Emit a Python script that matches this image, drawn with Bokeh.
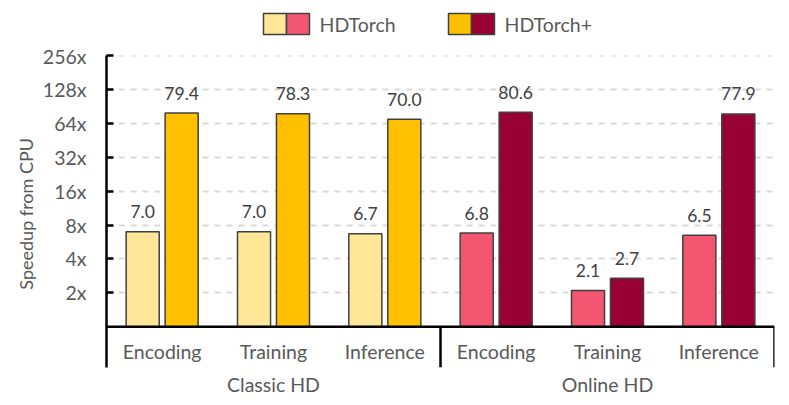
from bokeh.plotting import figure
from bokeh.layouts import column
from bokeh.models import (Range1d, FixedTicker, LogAxis, LinearAxis, Span,
                          ColumnDataSource, LogScale, Grid)
from bokeh.core.properties import value
from bokeh.embed import file_html
from bokeh.resources import INLINE

# ---------------- data ----------------
groups = ["Classic HD", "Online HD"]
categories = ["Encoding", "Training", "Inference"]
series = ["HDTorch", "HDTorch+"]
hdtorch = [7.0, 7.0, 6.7, 6.8, 2.1, 6.5]
hdtorch_plus = [79.4, 78.3, 70.0, 80.6, 2.7, 77.9]
y_ticks = [2, 4, 8, 16, 32, 64, 128, 256]
y_tick_labels = ["2x", "4x", "8x", "16x", "32x", "64x", "128x", "256x"]
# colours per group: (HDTorch, HDTorch+)
group_colors = {"Classic HD": ("#FFE699", "#FFC000"),
                "Online HD": ("#F25670", "#990033")}

FONT = "Lato"
TXT = "#595959"
DARK = "#404040"

W = 785
TOTAL_H = 401
LEG_H = 44
MAIN_H = TOTAL_H - LEG_H

ppd = 33.857          # pixels per doubling
base_px = 326.2       # page y of 1x
top_px, bot_px = 55, 367
left_px, right_px = 106, 774

# ---------------- legend strip ----------------
# (frames of a column are aligned, so the legend frame spans left_px..right_px)
leg = figure(width=W, height=LEG_H, x_range=Range1d(left_px, right_px),
             y_range=Range1d(LEG_H, 0),
             x_axis_type=None, y_axis_type=None,
             output_backend="svg", toolbar_location=None,
             min_border=0, min_border_left=left_px, min_border_right=W - right_px,
             min_border_top=0, min_border_bottom=0)
leg.grid.visible = False
leg.outline_line_color = None

sw_left = [263, 448]
sw_w = 46
sw_top, sw_bot = 13, 34
for k, name in enumerate(series):
    cols = [group_colors[g][k] for g in groups]
    x0 = sw_left[k]
    half = sw_w / 2
    leg.quad(left=[x0, x0 + half], right=[x0 + half, x0 + sw_w],
             top=[sw_top] * 2, bottom=[sw_bot] * 2,
             fill_color=cols, line_color=DARK, line_width=1.5)
    leg.text(x=[x0 + sw_w + 10], y=[(sw_top + sw_bot) / 2], text=[name],
             text_font=value(FONT), text_font_size="19.5px", text_color=TXT,
             text_baseline="middle", text_align="left")

# ---------------- main chart ----------------
y_start = 2 ** ((base_px - bot_px) / ppd)
y_end = 2 ** ((base_px - top_px) / ppd)

n_cat = len(categories)
n = len(groups) * n_cat

p = figure(width=W, height=MAIN_H, y_axis_type=None, x_axis_type=None,
           y_range=Range1d(y_start, y_end), x_range=Range1d(0, n),
           output_backend="svg", toolbar_location=None,
           min_border_left=left_px, min_border_right=W - right_px,
           min_border_top=top_px - LEG_H, min_border_bottom=TOTAL_H - bot_px)
p.outline_line_color = None
p.y_scale = LogScale()

# y axis (log)
yax = LogAxis(ticker=FixedTicker(ticks=y_ticks),
              major_label_overrides={t: l for t, l in zip(y_ticks, y_tick_labels)})
yax.axis_line_color = "black"
yax.axis_line_width = 2.5
yax.major_tick_in = 7
yax.major_tick_out = 0
yax.major_tick_line_width = 2.5
yax.major_tick_line_color = "black"
yax.minor_tick_line_color = None
yax.major_label_text_font = FONT
yax.major_label_text_font_size = "19.5px"
yax.major_label_text_color = TXT
yax.major_label_standoff = 20
yax.axis_label = "Speedup from  CPU"
yax.axis_label_text_font = FONT
yax.axis_label_text_font_size = "18px"
yax.axis_label_text_font_style = "normal"
yax.axis_label_text_color = TXT
yax.axis_label_standoff = 3
p.add_layout(yax, "left")

grid = Grid(dimension=1, ticker=yax.ticker, grid_line_color="#D9D9D9",
            grid_line_width=2, grid_line_dash="6 6")
p.add_layout(grid)

# group labels as bottom axis
g_centers = [gi * n_cat + n_cat / 2 for gi in range(len(groups))]
xax = LinearAxis(ticker=FixedTicker(ticks=g_centers),
                 major_label_overrides={c: g for c, g in zip(g_centers, groups)})
xax.axis_line_color = None
xax.major_tick_line_color = None
xax.major_tick_in = 0
xax.major_tick_out = 0
xax.minor_tick_line_color = None
xax.minor_tick_in = 0
xax.minor_tick_out = 0
xax.major_label_text_font = FONT
xax.major_label_text_font_size = "19.5px"
xax.major_label_text_color = TXT
xax.major_label_standoff = 5
p.add_layout(xax, "below")

# bars
centers = [i + 0.5 for i in range(n)]
off = 0.175
bw = 0.297
c1 = [group_colors[groups[i // n_cat]][0] for i in range(n)]
c2 = [group_colors[groups[i // n_cat]][1] for i in range(n)]
src = ColumnDataSource(dict(
    x1=[c - off for c in centers], x2=[c + off for c in centers],
    v1=hdtorch, v2=hdtorch_plus, c1=c1, c2=c2,
    t1=[f"{v:.1f}" for v in hdtorch], t2=[f"{v:.1f}" for v in hdtorch_plus],
    xc=centers, cat=categories * len(groups),
))
p.vbar(x="x1", top="v1", bottom=1, width=bw, fill_color="c1",
       line_color=DARK, line_width=1.5, source=src)
p.vbar(x="x2", top="v2", bottom=1, width=bw, fill_color="c2",
       line_color=DARK, line_width=1.5, source=src)

# value labels
for xk, vk, tk in (("x1", "v1", "t1"), ("x2", "v2", "t2")):
    p.text(x=xk, y=vk, text=tk, source=src, text_font=value(FONT),
           text_font_size="17.5px", text_color=DARK, text_align="center",
           text_baseline="alphabetic", y_offset=-20)

# baseline at 1x
p.add_layout(Span(location=1, dimension="width", line_color="black", line_width=2.5))

# group separators below baseline
seps = [gi * n_cat for gi in range(1, len(groups) + 1)]
p.segment(x0=seps, x1=seps, y0=[1] * len(seps), y1=[y_start] * len(seps),
          line_color="black", line_width=2.5)

# category labels
p.text(x="xc", y=1, text="cat", source=src, text_font=value(FONT),
       text_font_size="19.5px", text_color=TXT, text_align="center",
       text_baseline="middle", y_offset=25)

layout = column(leg, p, spacing=0)
open("out.html", "w").write(file_html(layout, INLINE))
